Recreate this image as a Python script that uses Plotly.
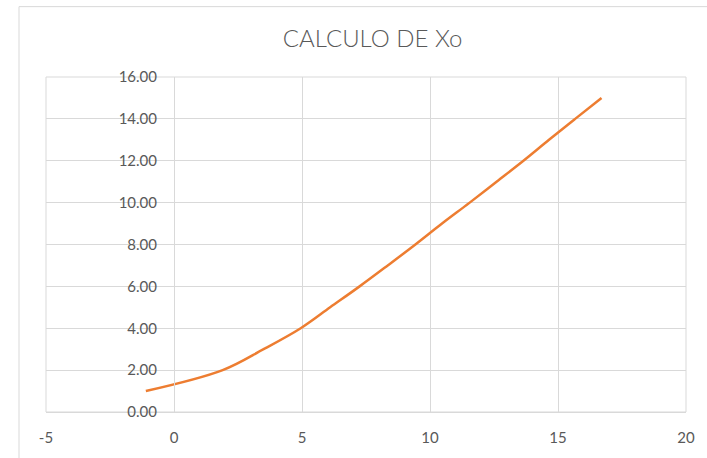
import plotly.graph_objects as go

# Calculated Xo values
x_vals = [-1.1, 1.9, 3.5, 4.95, 6.1, 7.25, 8.35, 9.43, 10.47, 11.55, 12.6, 13.65, 14.65, 15.67, 16.7]
xo_vals = [1, 2, 3, 4, 5, 6, 7, 8, 9, 10, 11, 12, 13, 14, 15]

x_ticks = [-5, 0, 5, 10, 15, 20]
x_tick_text = ["-5", "0", "5", "10", "15", "20"]
y_ticks = [0, 2, 4, 6, 8, 10, 12, 14, 16]

grid = "#d9d9d9"
txt = "#595959"
font_family = "Lato, Open Sans, sans-serif"

fig = go.Figure()
fig.add_trace(go.Scatter(
    x=x_vals, y=xo_vals, mode="lines",
    line=dict(color="#ED7D31", width=2.5, shape="spline", smoothing=1.0),
    showlegend=False, hoverinfo="x+y",
))

fig.update_layout(
    width=707, height=458,
    margin=dict(l=46, r=21, t=77, b=43),
    paper_bgcolor="white", plot_bgcolor="white",
    title=dict(text="CALCULO DE Xo", x=0.527, xanchor="center", y=0.915, yanchor="middle",
               font=dict(family=font_family, size=24, color=txt, weight=300)),
    xaxis=dict(range=[-5, 20], tickvals=x_ticks, ticktext=x_tick_text, showgrid=True,
               gridcolor=grid, gridwidth=1, zeroline=False, showline=True, linecolor=grid,
               ticks="", ticklabelstandoff=12,
               tickfont=dict(family=font_family, size=15, color=txt)),
    yaxis=dict(range=[0, 16], tickvals=y_ticks, tickformat=".2f", showgrid=True, gridcolor=grid,
               gridwidth=1, zeroline=False, showline=True, linecolor=grid, ticks="",
               anchor="free", position=0.2, ticklabelstandoff=14,
               tickfont=dict(family=font_family, size=15, color=txt)),
    shapes=[
        dict(type="rect", xref="paper", yref="paper", x0=0, x1=1, y0=0, y1=1,
             line=dict(color=grid, width=1), layer="below"),
        dict(type="line", xref="paper", yref="paper", x0=-27/640, x1=2.0, y0=1 + 71/338, y1=1 + 71/338,
             line=dict(color=grid, width=1)),
        dict(type="line", xref="paper", yref="paper", x0=-27/640, x1=-27/640, y0=-1, y1=1 + 71/338,
             line=dict(color=grid, width=1)),
    ],
)

fig.write_html("out.html")
